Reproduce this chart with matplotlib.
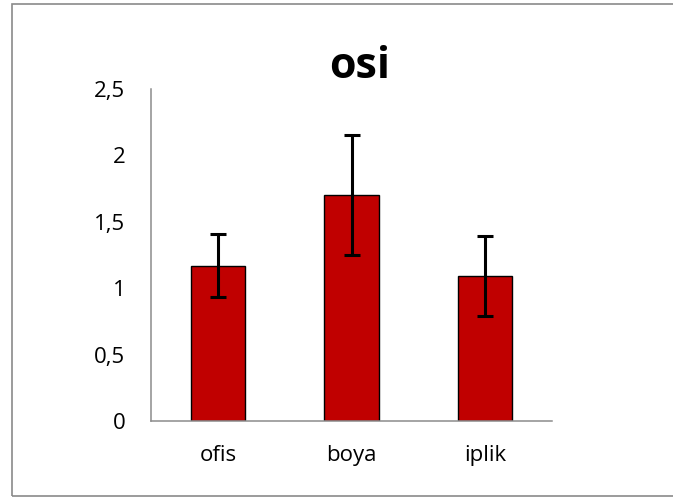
import matplotlib
matplotlib.use("Agg")
import matplotlib.pyplot as plt
from matplotlib.patches import Rectangle

# Chart data
categories = ["ofis", "boya", "iplik"]
means = [1.17, 1.70, 1.09]
errors = [0.24, 0.45, 0.30]
y_ticks = [0, 0.5, 1, 1.5, 2, 2.5]
y_tick_labels = ["0", "0,5", "1", "1,5", "2", "2,5"]
title = "osi"

plt.rcParams["font.family"] = ["Open Sans", "DejaVu Sans"]

fig = plt.figure(figsize=(6.73, 4.97), dpi=100)
W, H = 673, 497

# outer chart frame (right edge runs off the image)
fig.patches.append(Rectangle((12 / W, 1 - 496 / H), 2.0, (496 - 4) / H,
                             transform=fig.transFigure, fill=False,
                             edgecolor="#8a8a8a", linewidth=1.2))

ax = fig.add_axes([151 / W, 1 - 421 / H, (552 - 151) / W, (421 - 89) / H])
x = range(len(categories))
ax.bar(x, means, width=0.405, color="#c00000", edgecolor="black", linewidth=1.0,
       yerr=errors, error_kw=dict(ecolor="black", elinewidth=2.2, capsize=5.5, capthick=2.2))

ax.set_xlim(-0.5, 2.5)
ax.set_ylim(0, 2.5)
ax.set_xticks(list(x))
ax.set_xticklabels(categories)
ax.set_yticks(y_ticks)
ax.set_yticklabels(y_tick_labels)
ax.tick_params(axis="both", length=0, labelsize=16, colors="black")
ax.tick_params(axis="y", pad=18.5)
ax.tick_params(axis="x", pad=17)

for side in ["top", "right"]:
    ax.spines[side].set_visible(False)
for side in ["left", "bottom"]:
    ax.spines[side].set_color("#8c8c8c")
    ax.spines[side].set_linewidth(1.1)

fig.text(360 / W, 1 - 78 / H, title, ha="center", va="baseline",
         fontsize=31, fontweight="bold")

fig.savefig("out.png", dpi=100)
